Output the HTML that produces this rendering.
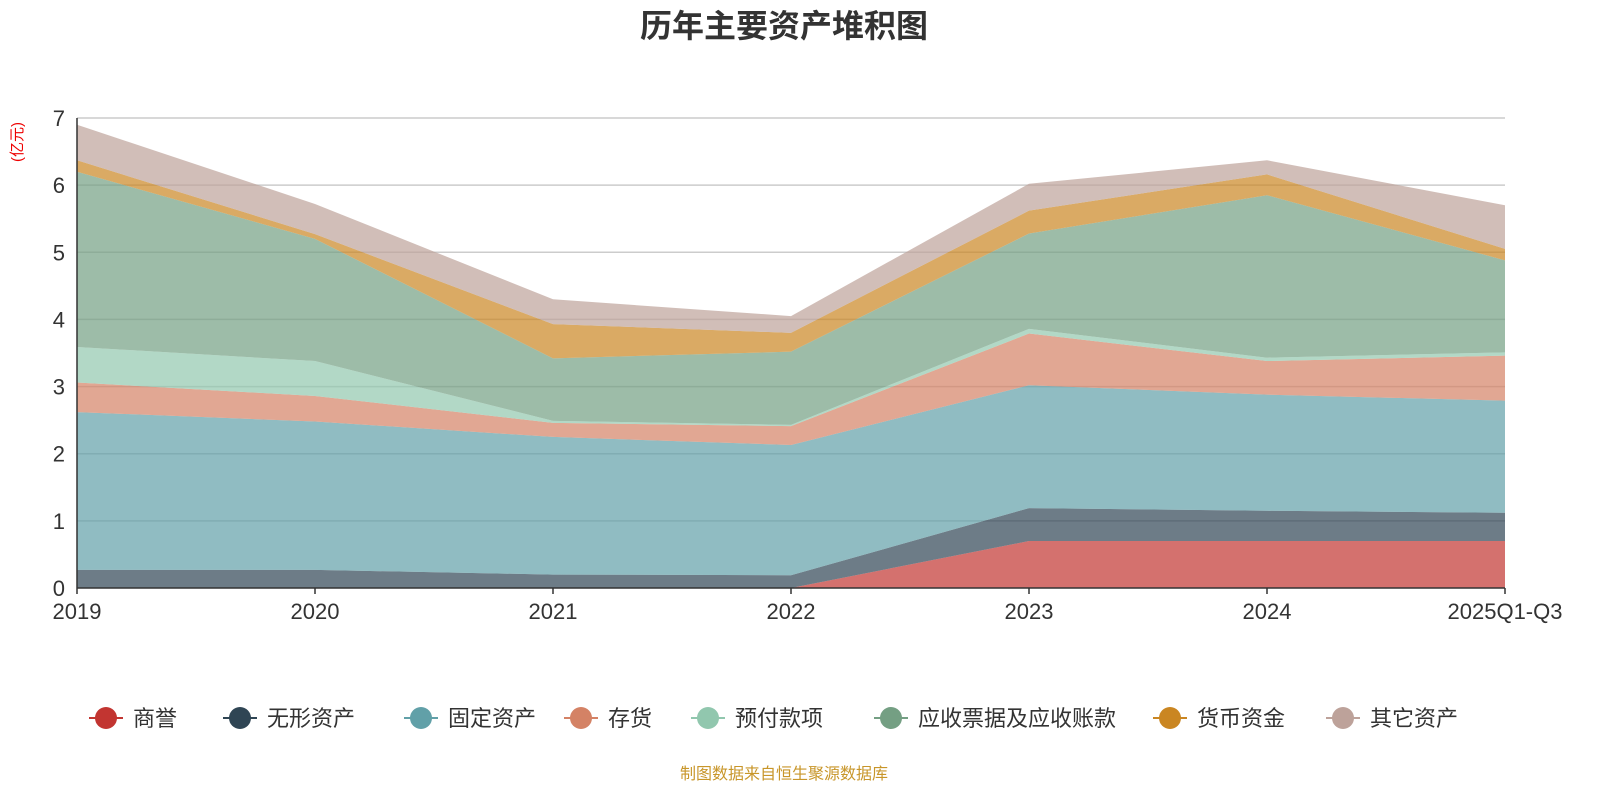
<!DOCTYPE html>
<html><head><meta charset="utf-8"><style>
html,body{margin:0;padding:0;background:#fff;overflow:hidden;width:1600px;height:800px;}
svg{display:block;}
svg text{font-family:"Liberation Sans","Noto Sans CJK SC",sans-serif;}
</style></head><body>
<svg id="chart" width="1600" height="800" xmlns="http://www.w3.org/2000/svg">
<text x="784" y="37" text-anchor="middle" font-size="32" font-weight="bold" fill="#333">历年主要资产堆积图</text>
<text transform="translate(22,142) rotate(-90)" text-anchor="middle" font-size="15" fill="#e00">(亿元)</text>
<g id="grid"></g><g id="areas"></g><g id="axes"></g><g id="legend"></g>
<text x="784" y="779" text-anchor="middle" font-size="16" fill="#c8962a">制图数据来自恒生聚源数据库</text>
</svg>
<script>
const categories=["2019","2020","2021","2022","2023","2024","2025Q1-Q3"];
const seriesNames=["商誉","无形资产","固定资产","存货","预付款项","应收票据及应收账款","货币资金","其它资产"];
const goodwill=[0,0,0,0,0.70,0.70,0.70];
const intangible=[0.27,0.27,0.20,0.19,0.49,0.45,0.42];
const fixedAssets=[2.35,2.21,2.05,1.94,1.83,1.73,1.67];
const inventory=[0.44,0.38,0.21,0.28,0.77,0.50,0.67];
const prepaid=[0.53,0.52,0.03,0.02,0.07,0.05,0.05];
const receivables=[2.61,1.82,0.93,1.09,1.42,2.42,1.37];
const cash=[0.17,0.07,0.51,0.28,0.34,0.31,0.17];
const others=[0.53,0.45,0.37,0.25,0.40,0.21,0.65];
const yTicks=[0,1,2,3,4,5,6,7];
const series=[goodwill,intangible,fixedAssets,inventory,prepaid,receivables,cash,others];
const colors=["#c23531","#2f4554","#61a0a8","#d48265","#91c7ae","#749f83","#ca8622","#bda29a"];
const NS="http://www.w3.org/2000/svg";
const x0=77,x1=1505,yb=588,yt=118,ymax=7;
const xs=i=>x0+(x1-x0)*i/(categories.length-1);
const ys=v=>yb-(yb-yt)*v/ymax;
function mk(tag,attrs,parent){const e=document.createElementNS(NS,tag);for(const k in attrs)e.setAttribute(k,attrs[k]);parent.appendChild(e);return e;}
const grid=document.getElementById('grid'),areas=document.getElementById('areas'),axes=document.getElementById('axes'),legend=document.getElementById('legend');
yTicks.forEach(t=>{
 if(t>0){const l=mk('line',{x1:x0,x2:x1,y1:ys(t),y2:ys(t),stroke:'#ccc','stroke-width':1.5},grid);
 
 }
 const tx=mk('text',{x:x0-12,y:ys(t)+8,'text-anchor':'end','font-size':22,fill:'#333'},axes);tx.textContent=t;
 
 
});
let base=categories.map(()=>0);
series.forEach((s,si)=>{
 const top=base.map((b,i)=>b+s[i]);
 let d='M'+top.map((v,i)=>xs(i)+','+ys(v)).join(' L');
 for(let i=categories.length-1;i>=0;i--)d+=' L'+xs(i)+','+ys(base[i]);
 d+='Z';
 const p=mk('path',{d:d,fill:colors[si],'fill-opacity':0.7,stroke:'none'},areas);
 
 
 base=top;
});
const ax=mk('line',{x1:x0,x2:x0,y1:yt,y2:yb,stroke:'#333','stroke-width':1.5},axes);


const bx=mk('line',{x1:x0,x2:x1,y1:yb,y2:yb,stroke:'#333','stroke-width':1.5},axes);


categories.forEach((c,i)=>{
 const tk=mk('line',{x1:xs(i),x2:xs(i),y1:yb,y2:yb+6,stroke:'#333','stroke-width':1.5},axes);
 
 
 const t=mk('text',{x:xs(i),y:yb+31,'text-anchor':'middle','font-size':22,fill:'#333'},axes);t.textContent=c;
 
 
});
const legX=[106,240,421,581,708,891,1170,1343];
seriesNames.forEach((n,i)=>{
 const g=mk('g',{},legend);
 
 
 mk('line',{x1:legX[i]-17,x2:legX[i]+17,y1:718,y2:718,stroke:colors[i],'stroke-width':2},g);
 mk('circle',{cx:legX[i],cy:718,r:11,fill:colors[i]},g);
 const t=mk('text',{x:legX[i]+27,y:726,'font-size':22,fill:'#333'},g);t.textContent=n;
});
</script>
</body></html>
